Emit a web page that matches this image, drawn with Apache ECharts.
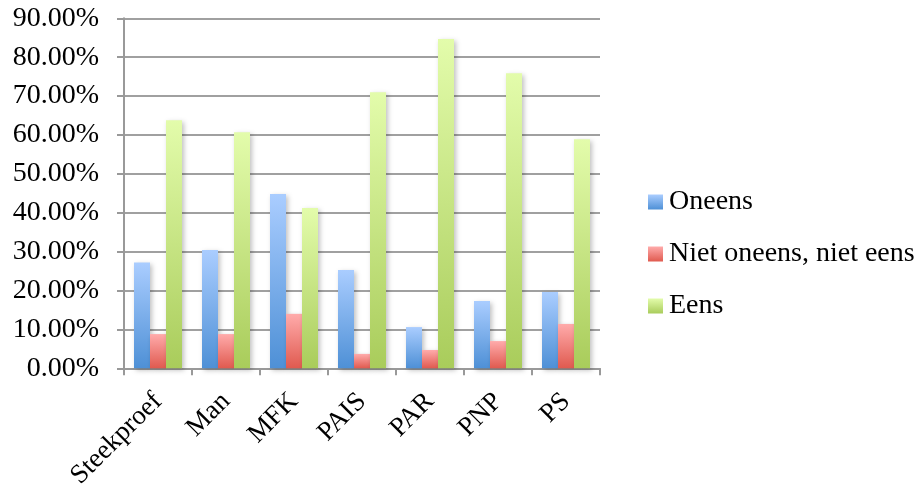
<!DOCTYPE html>
<html><head><meta charset="utf-8">
<script src="https://cdn.jsdelivr.net/npm/echarts@6/dist/echarts.min.js"></script>
<style>html,body{margin:0;padding:0;background:#fff}#c{width:920px;height:492px}</style>
</head><body><div id="c"></div>
<script>
const categories = ['Steekproef','Man','MFK','PAIS','PAR','PNP','PS'];
const oneens = [27.2, 30.4, 44.8, 25.3, 10.6, 17.3, 19.6];
const nietOneensNietEens = [8.8, 8.8, 14.0, 3.7, 4.7, 7.0, 11.4];
const eens = [63.8, 60.7, 41.2, 71.0, 84.7, 75.9, 58.9];
const seriesNames = ['Oneens','Niet oneens, niet eens','Eens'];

const font = 'Liberation Serif';
function grad(top, bottom){
  return new echarts.graphic.LinearGradient(0,0,0,1,[{offset:0,color:top},{offset:1,color:bottom}]);
}
const colors = [grad('#aacdff','#4e90d6'), grad('#ffabab','#e05a4f'), grad('#e3fcab','#a9cc5b')];
const chart = echarts.init(document.getElementById('c'));
const mk = (name, data, i) => ({
  name, type:'bar', data, barWidth:16, barGap:'0%',
  itemStyle:{color:colors[i], shadowColor:'rgba(0,0,0,0.25)', shadowBlur:5, shadowOffsetX:2, shadowOffsetY:2}
});
chart.setOption({
  animation:false,
  grid:{left:124, right:320, top:18.3, bottom:123.7, containLabel:false},
  legend:{orient:'vertical', left:648, top:188, padding:0, itemGap:24, itemWidth:15, itemHeight:15,
    textStyle:{fontFamily:font, fontSize:28, color:'#000', padding:[0,0,0,1]}, data:seriesNames, icon:'rect'},
  xAxis:{type:'category', data:categories,
    axisLine:{lineStyle:{color:'#999', width:2}},
    axisTick:{show:true, length:7, lineStyle:{color:'#999', width:2}},
    axisLabel:{rotate:45, fontFamily:font, fontSize:27, color:'#000', margin:29}},
  yAxis:{type:'value', min:0, max:90, interval:10,
    axisLine:{show:true, lineStyle:{color:'#999', width:2}},
    axisTick:{show:true, length:7, lineStyle:{color:'#999', width:2}},
    splitLine:{lineStyle:{color:'#a0a0a0', width:2}},
    axisLabel:{fontFamily:font, fontSize:28, color:'#000', margin:25, formatter: v => v.toFixed(2)+'%'}},
  series:[mk(seriesNames[0], oneens, 0), mk(seriesNames[1], nietOneensNietEens, 1), mk(seriesNames[2], eens, 2)]
});
</script></body></html>
